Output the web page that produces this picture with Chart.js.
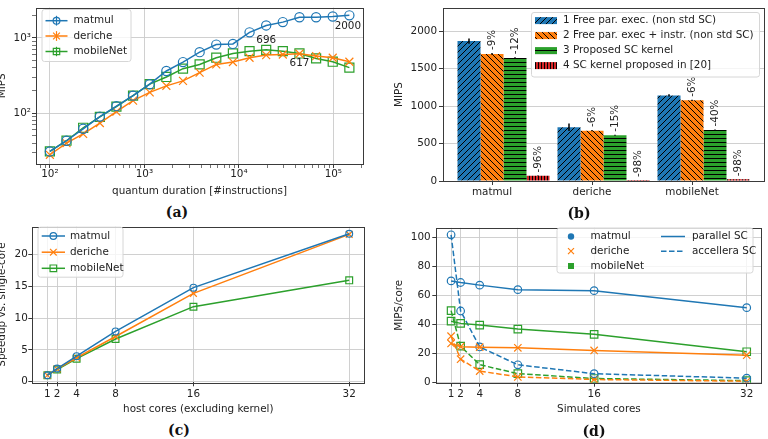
<!DOCTYPE html>
<html>
<head>
<meta charset="utf-8">
<script src="https://cdn.jsdelivr.net/npm/chart.js@4.4.0/dist/chart.umd.min.js"></script>
<style>
  html, body { margin: 0; padding: 0; background: #fff; }
  body { width: 768px; height: 439px; position: relative; overflow: hidden; }
  canvas { position: absolute; }
  .cap { position: absolute; font: bold 14px "DejaVu Serif", serif; color: #111; transform: translate(-50%, -50%); line-height: 1; white-space: nowrap; }
</style>
</head>
<body>
<canvas id="ca" width="388" height="200" style="left:-4px;top:0px"></canvas>
<canvas id="cb" width="384" height="200" style="left:384px;top:0px"></canvas>
<canvas id="cc" width="388" height="200" style="left:-4px;top:220px"></canvas>
<canvas id="cd" width="384" height="200" style="left:384px;top:220px"></canvas>
<div class="cap" style="left:177px;top:212px">(a)</div>
<div class="cap" style="left:579px;top:213px">(b)</div>
<div class="cap" style="left:179px;top:430px">(c)</div>
<div class="cap" style="left:594px;top:431px">(d)</div>
<script>
// ---- (a) MIPS vs quantum duration
var quantum = [100, 150, 225, 338, 506, 759, 1139, 1709, 2563, 3844, 5767, 8650, 12975, 19462, 29193, 43789, 65684, 98526, 147789];
var mipsMatmul = [31, 43, 62, 90, 124, 171, 243, 364, 478, 648, 817, 834, 1188, 1468, 1625, 1889, 1889, 1928, 2000];
var mipsDeriche = [28, 40, 53, 74, 105, 147, 189, 231, 269, 346, 445, 478, 546, 592, 603, 617, 574, 546, 483];
var mipsMobileNet = [31, 43, 64, 89, 122, 171, 243, 303, 391, 445, 546, 622, 668, 696, 668, 622, 535, 483, 403];
var logTickValues = [100, 1000, 10000, 100000];
var logTickLabels = ['10²', '10³', '10⁴', '10⁵'];
var annoText = ['2000', '696', '617'];
var annoX = [147789, 19462, 43789];
var annoY = [2000, 696, 617];

// ---- (b) MIPS per configuration
var groups = ['matmul', 'deriche', 'mobileNet'];
var barSeries = ['1 Free par. exec. (non std SC)', '2 Free par. exec + instr. (non std SC)', '3 Proposed SC kernel', '4 SC kernel proposed in [20]'];
var freePar = [1868, 717, 1143];
var freeParInstr = [1697, 672, 1077];
var proposedSC = [1644, 611, 681];
var scRef20 = [70, 14, 23];
var errFreePar = [35, 50, 15];
var errFreeParInstr = [12, 8, 8];
var errProposedSC = [10, 8, 8];
var errRef20 = [2, 1, 1];
var pctFreeParInstr = ['-9%', '-6%', '-6%'];
var pctProposedSC = ['-12%', '-15%', '-40%'];
var pctRef20 = ['-96%', '-98%', '-98%'];
var mipsTicks = [0, 500, 1000, 1500, 2000];

// ---- (c) speedup vs host cores
var hostCores = [1, 2, 4, 8, 16, 32];
var speedMatmul = [1, 2.05, 4.0, 7.9, 14.8, 23.3];
var speedDeriche = [1, 2.0, 3.75, 7.1, 13.9, 23.2];
var speedMobileNet = [1, 1.9, 3.6, 6.7, 11.8, 15.95];
var speedTicks = [0, 5, 10, 15, 20];

// ---- (d) MIPS/core vs simulated cores
var simCores = [1, 2, 4, 8, 16, 32];
var parMatmul = [70, 68.9, 67.1, 64, 63.3, 51.6];
var parDeriche = [27, 24.8, 24.4, 24, 22.2, 18.9];
var parMobileNet = [42.3, 40.8, 39.6, 36.9, 33.3, 21.3];
var accMatmul = [101.7, 49.3, 24.6, 12.3, 6.2, 3.1];
var accDeriche = [32, 16.2, 8, 4, 2.2, 1];
var accMobileNet = [49.6, 25.1, 12.4, 6.2, 2.9, 1.4];
var coreTicks = [1, 2, 4, 8, 16, 32];
var mipsCoreTicks = [0, 20, 40, 60, 80, 100];

var BLUE = '#1f77b4', ORANGE = '#ff7f0e', GREEN = '#2ca02c', RED = '#d62728';
var GRID = '#cbcbcb', AXIS = '#3a3a3a', TXT = '#222';
var FONT = '10.4px "DejaVu Sans"';

Chart.defaults.font.family = '"DejaVu Sans", sans-serif';
Chart.defaults.font.size = 10.4;
Chart.defaults.color = TXT;
Chart.defaults.animation = false;
Chart.defaults.events = [];
Chart.defaults.responsive = false;
Chart.defaults.maintainAspectRatio = false;
Chart.defaults.plugins.legend.display = false;
Chart.defaults.plugins.tooltip.enabled = false;

// axes frame (all four spines)
Chart.register({
  id: 'frame',
  afterDatasetsDraw: function (chart) {
    var a = chart.chartArea, ctx = chart.ctx;
    ctx.save();
    ctx.strokeStyle = AXIS;
    ctx.lineWidth = 1;
    ctx.strokeRect(Math.round(a.left) + 0.5, Math.round(a.top) + 0.5, Math.round(a.right - a.left), Math.round(a.bottom - a.top));
    ctx.restore();
  }
});

function seg(ctx, x1, y1, x2, y2) {
  ctx.beginPath(); ctx.moveTo(x1, y1); ctx.lineTo(x2, y2); ctx.stroke();
}

function drawMarker(ctx, style, x, y, h, color, filled) {
  ctx.save();
  ctx.strokeStyle = color; ctx.fillStyle = color; ctx.lineWidth = 1.2;
  ctx.beginPath();
  if (style === 'circle') ctx.arc(x, y, h, 0, Math.PI * 2);
  else if (style === 'rect') ctx.rect(x - h, y - h, 2 * h, 2 * h);
  else { ctx.moveTo(x - h, y - h); ctx.lineTo(x + h, y + h); ctx.moveTo(x - h, y + h); ctx.lineTo(x + h, y - h); }
  if (filled && style !== 'crossRot') ctx.fill();
  else ctx.stroke();
  ctx.restore();
}

// legend drawn inside the axes like matplotlib does
function boxLegend(box, items, ox, oy) {
  return {
    id: 'boxLegend',
    afterDraw: function (chart) {
      var ctx = chart.ctx;
      ctx.save();
      ctx.translate(-ox, -oy);
      ctx.beginPath();
      ctx.roundRect(box.x + 0.5, box.y + 0.5, box.w, box.h, 2.5);
      ctx.fillStyle = 'rgba(255,255,255,0.8)';
      ctx.fill();
      ctx.strokeStyle = '#d6d6d6'; ctx.lineWidth = 1;
      ctx.stroke();
      items.forEach(function (it) {
        var cx = it.hx + it.hw / 2;
        if (it.pattern) { ctx.fillStyle = it.pattern; ctx.fillRect(it.hx, it.y - 3.5, it.hw, 7); }
        if (it.line) {
          ctx.strokeStyle = it.color; ctx.lineWidth = 1.5;
          ctx.setLineDash(it.dash || []);
          seg(ctx, it.hx, it.y, it.hx + it.hw, it.y);
          ctx.setLineDash([]);
        }
        if (it.errbar) { ctx.strokeStyle = it.color; ctx.lineWidth = 1.2; seg(ctx, cx, it.y - it.h - 1.5, cx, it.y + it.h + 1.5); }
        if (it.marker) drawMarker(ctx, it.marker, cx, it.y, it.h, it.color, it.filled);
        ctx.font = FONT; ctx.fillStyle = TXT; ctx.textBaseline = 'middle'; ctx.textAlign = 'left';
        ctx.fillText(it.text, it.tx, it.y);
      });
      ctx.restore();
    }
  };
}

function fixedTicks(values) {
  return function (scale) { scale.ticks = values.map(function (v) { return { value: v }; }); };
}

function logTicks(lo, hi) {
  return function (scale) {
    var t = [];
    for (var e = Math.floor(Math.log10(lo)); e <= Math.ceil(Math.log10(hi)); e++) {
      for (var m = 1; m < 10; m++) {
        var v = m * Math.pow(10, e);
        if (v >= lo && v <= hi) t.push({ value: v, major: m === 1 });
      }
    }
    scale.ticks = t;
  };
}

function logLabel(v) {
  var k = logTickValues.indexOf(v);
  return k >= 0 ? logTickLabels[k] : '';
}

function axis(o) {
  var ax = {
    type: o.type || 'linear',
    min: o.min, max: o.max,
    bounds: 'data', offset: false,
    afterBuildTicks: o.ticksFn,
    afterFit: function (s) { if (s.isHorizontal()) s.height = o.size; else s.width = o.size; },
    ticks: { autoSkip: false, maxRotation: 0, minRotation: 0, padding: o.pad, color: TXT, callback: o.label || function (v) { return String(v); } },
    grid: {
      display: true,
      drawOnChartArea: o.noGrid ? false : true,
      offset: false,
      color: function (c) { return (c.tick && c.tick.major === false) ? 'rgba(0,0,0,0)' : GRID; },
      lineWidth: 0.9,
      tickColor: AXIS,
      tickWidth: function (c) { return (c.tick && c.tick.major === false) ? 0.7 : 1; },
      tickLength: 4,
      drawTicks: true
    },
    border: { display: false },
    title: { display: false }
  };
  if (o.title) ax.title = { display: true, text: o.title, color: TXT, padding: o.titlePad };
  return ax;
}

function lineSet(label, xs, ys, color, style, radius, dash) {
  return {
    label: label,
    data: xs.map(function (x, i) { return { x: x, y: ys[i] }; }),
    borderColor: color, borderWidth: 1.5, borderDash: dash || [],
    pointStyle: style, pointRadius: radius, pointBorderColor: color,
    pointBackgroundColor: 'rgba(0,0,0,0)', pointBorderWidth: 1.2,
    tension: 0, fill: false
  };
}

// ---------------- (a)
new Chart(document.getElementById('ca'), {
  type: 'line',
  data: { datasets: [
    lineSet('matmul', quantum, mipsMatmul, BLUE, 'circle', 4.6),
    lineSet('deriche', quantum, mipsDeriche, ORANGE, 'crossRot', 5.6),
    lineSet('mobileNet', quantum, mipsMobileNet, GREEN, 'rect', 6.4)
  ] },
  options: {
    layout: { padding: { left: 0, top: 6, right: 21, bottom: 0 } },
    scales: {
      x: axis({ type: 'logarithmic', min: 71.3, max: 206000, ticksFn: logTicks(71.3, 206000), size: 36, pad: 0, label: logLabel,
        title: 'quantum duration [#instructions]', titlePad: { top: 0, bottom: 2 } }),
      y: axis({ type: 'logarithmic', min: 21.1, max: 2535, ticksFn: logTicks(21.1, 2535), size: 40, pad: 1, label: logLabel,
        title: 'MIPS', titlePad: { top: 0, bottom: 0 } })
    }
  },
  plugins: [
    {
      id: 'annotations',
      afterDatasetsDraw: function (chart) {
        var ctx = chart.ctx, xs = chart.scales.x, ys = chart.scales.y;
        var shift = [[-1.5, 11], [0, -10], [0, 10]];
        ctx.save();
        ctx.font = FONT; ctx.fillStyle = TXT; ctx.textAlign = 'center'; ctx.textBaseline = 'middle';
        annoText.forEach(function (t, i) {
          ctx.fillText(t, xs.getPixelForValue(annoX[i]) + shift[i][0], ys.getPixelForValue(annoY[i]) + shift[i][1]);
        });
        ctx.restore();
      }
    },
    boxLegend({ x: 41.5, y: 9, w: 89, h: 52 }, [
      { text: 'matmul', y: 20.7, hx: 45.5, hw: 22, tx: 73.5, line: true, color: BLUE, marker: 'circle', h: 3.4, errbar: true },
      { text: 'deriche', y: 36, hx: 45.5, hw: 22, tx: 73.5, line: true, color: ORANGE, marker: 'crossRot', h: 3.4, errbar: true },
      { text: 'mobileNet', y: 51.5, hx: 45.5, hw: 22, tx: 73.5, line: true, color: GREEN, marker: 'rect', h: 3.2, errbar: true }
    ], -4, 0)
  ]
});

// ---------------- (b)
function hatch(color, kind) {
  var s = kind === 'h' ? 4 : (kind === 'v' ? 3 : 6);
  var c = document.createElement('canvas');
  c.width = s; c.height = s;
  var g = c.getContext('2d');
  g.fillStyle = color; g.fillRect(0, 0, s, s);
  g.strokeStyle = '#000'; g.lineWidth = 1;
  g.beginPath();
  if (kind === '/') {
    g.moveTo(-1, s + 1); g.lineTo(s + 1, -1);
    g.moveTo(-1, 1); g.lineTo(1, -1);
    g.moveTo(s - 1, s + 1); g.lineTo(s + 1, s - 1);
  } else if (kind === '\\') {
    g.moveTo(-1, -1); g.lineTo(s + 1, s + 1);
    g.moveTo(s - 1, -1); g.lineTo(s + 1, 1);
    g.moveTo(-1, s - 1); g.lineTo(1, s + 1);
  } else if (kind === 'h') {
    g.moveTo(0, 2.5); g.lineTo(s, 2.5);
  } else {
    g.moveTo(1.5, 0); g.lineTo(1.5, s);
  }
  g.stroke();
  return g.createPattern(c, 'repeat');
}

var patterns = [hatch(BLUE, '/'), hatch(ORANGE, '\\'), hatch(GREEN, 'h'), hatch(RED, 'v')];
var barValues = [freePar, freeParInstr, proposedSC, scRef20];
var barErrors = [errFreePar, errFreeParInstr, errProposedSC, errRef20];
var barPct = [[], pctFreeParInstr, pctProposedSC, pctRef20];

new Chart(document.getElementById('cb'), {
  type: 'bar',
  data: { datasets: barValues.map(function (vals, d) {
    return {
      label: barSeries[d],
      data: groups.map(function (g, i) { return { x: i, y: vals[i] }; }),
      backgroundColor: patterns[d], borderWidth: 0,
      categoryPercentage: 0.92, barPercentage: 1
    };
  }) },
  options: {
    layout: { padding: { left: 0, top: 6, right: 4, bottom: 0 } },
    scales: {
      x: axis({ min: -0.605, max: 2.605, size: 19, pad: 1.5, noGrid: true,
        ticksFn: function (s) { s.ticks = groups.map(function (g, i) { return { value: i - 0.115 }; }); },
        label: function (v, i) { return groups[i]; } }),
      y: axis({ min: 0, max: 2307, ticksFn: fixedTicks(mipsTicks), size: 59, pad: 2,
        title: 'MIPS', titlePad: { top: 8.8, bottom: 0 } })
    }
  },
  plugins: [
    {
      id: 'barExtras',
      afterDatasetsDraw: function (chart) {
        var ctx = chart.ctx, ys = chart.scales.y;
        ctx.save();
        barValues.forEach(function (vals, d) {
          chart.getDatasetMeta(d).data.forEach(function (bar, i) {
            var top = ys.getPixelForValue(vals[i] + barErrors[d][i]);
            var bot = ys.getPixelForValue(vals[i] - barErrors[d][i]);
            ctx.strokeStyle = '#000'; ctx.lineWidth = 1.5;
            seg(ctx, bar.x, top, bar.x, bot);
            var t = barPct[d][i];
            if (t) {
              ctx.save();
              ctx.translate(bar.x, top - 3);
              ctx.rotate(-Math.PI / 2);
              ctx.font = FONT; ctx.fillStyle = TXT; ctx.textAlign = 'left'; ctx.textBaseline = 'middle';
              ctx.fillText(t, 0, 0);
              ctx.restore();
            }
          });
        });
        ctx.restore();
      }
    },
    boxLegend({ x: 531, y: 12, w: 228, h: 64.5 }, barSeries.map(function (s, d) {
      return { text: s, y: 20.6 + d * 15, hx: 535, hw: 22, tx: 563, pattern: patterns[d] };
    }), 384, 0)
  ]
});

// ---------------- (c)
new Chart(document.getElementById('cc'), {
  type: 'line',
  data: { datasets: [
    lineSet('matmul', hostCores, speedMatmul, BLUE, 'circle', 3.4),
    lineSet('deriche', hostCores, speedDeriche, ORANGE, 'crossRot', 4.8),
    lineSet('mobileNet', hostCores, speedMobileNet, GREEN, 'rect', 4.8)
  ] },
  options: {
    layout: { padding: { left: 0, top: 3.3, right: 19.7, bottom: 0 } },
    scales: {
      x: axis({ min: -0.55, max: 33.55, ticksFn: fixedTicks(coreTicks), size: 37.7, pad: 1.5,
        title: 'host cores (excluding kernel)', titlePad: { top: 0, bottom: 4.8 } }),
      y: axis({ min: -0.12, max: 24.4, ticksFn: fixedTicks(speedTicks), size: 36.3, pad: 0.5,
        title: 'Speedup vs. single-core', titlePad: { top: 0, bottom: 0 } })
    }
  },
  plugins: [
    boxLegend({ x: 37.5, y: 226.7, w: 85, h: 50 }, [
      { text: 'matmul', y: 236, hx: 41.7, hw: 23.3, tx: 70, line: true, color: BLUE, marker: 'circle', h: 3.3 },
      { text: 'deriche', y: 252.2, hx: 41.7, hw: 23.3, tx: 70, line: true, color: ORANGE, marker: 'crossRot', h: 3.3 },
      { text: 'mobileNet', y: 268.3, hx: 41.7, hw: 23.3, tx: 70, line: true, color: GREEN, marker: 'rect', h: 3.3 }
    ], -4, 220)
  ]
});

// ---------------- (d)
var DASH = [5.5, 2.5];
new Chart(document.getElementById('cd'), {
  type: 'line',
  data: { datasets: [
    lineSet('matmul parallel SC', simCores, parMatmul, BLUE, 'circle', 3.8),
    lineSet('deriche parallel SC', simCores, parDeriche, ORANGE, 'crossRot', 5.2),
    lineSet('mobileNet parallel SC', simCores, parMobileNet, GREEN, 'rect', 5.3),
    lineSet('matmul accellera SC', simCores, accMatmul, BLUE, 'circle', 3.8, DASH),
    lineSet('deriche accellera SC', simCores, accDeriche, ORANGE, 'crossRot', 5.2, DASH),
    lineSet('mobileNet accellera SC', simCores, accMobileNet, GREEN, 'rect', 5.3, DASH)
  ] },
  options: {
    layout: { padding: { left: 0, top: 2.7, right: 4, bottom: 0 } },
    scales: {
      x: axis({ min: -0.55, max: 33.55, ticksFn: fixedTicks(coreTicks), size: 37.3, pad: 1,
        title: 'Simulated cores', titlePad: { top: 0, bottom: 4.8 } }),
      y: axis({ min: 0, max: 106.5, ticksFn: fixedTicks(mipsCoreTicks), size: 52.3, pad: 1.6,
        title: 'MIPS/core', titlePad: { top: 8.8, bottom: 0 } })
    }
  },
  plugins: [
    boxLegend({ x: 556.5, y: 227.5, w: 196, h: 45 }, [
      { text: 'matmul', y: 236.5, hx: 560, hw: 22, tx: 590.5, color: BLUE, marker: 'circle', h: 3.2, filled: true },
      { text: 'deriche', y: 251.2, hx: 560, hw: 22, tx: 590.5, color: ORANGE, marker: 'crossRot', h: 3, filled: true },
      { text: 'mobileNet', y: 266, hx: 560, hw: 22, tx: 590.5, color: GREEN, marker: 'rect', h: 3, filled: true },
      { text: 'parallel SC', y: 236.5, hx: 661, hw: 24, tx: 692, line: true, color: BLUE },
      { text: 'accellera SC', y: 251.2, hx: 661, hw: 24, tx: 692, line: true, color: BLUE, dash: DASH }
    ], 384, 220)
  ]
});
</script>
</body>
</html>
